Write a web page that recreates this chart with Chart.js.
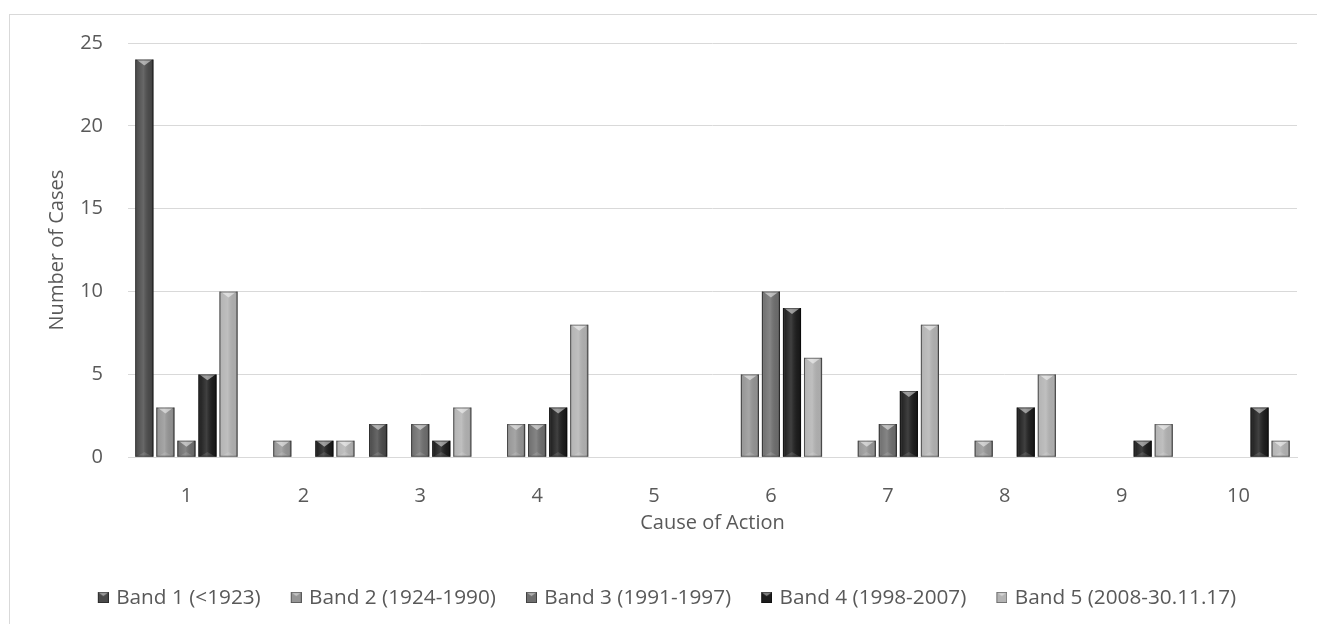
<!DOCTYPE html>
<html>
<head>
<meta charset="utf-8">
<script src="https://cdn.jsdelivr.net/npm/chart.js@4.4.0/dist/chart.umd.min.js"></script>
<style>
  html, body { margin: 0; padding: 0; background: #fff; overflow: hidden; }
  #caixa { position: relative; width: 1317px; height: 624px; }
</style>
</head>
<body>
<div id="caixa"><canvas id="grafico"></canvas></div>
<script>
// dados do grafico
const categorias = ['1', '2', '3', '4', '5', '6', '7', '8', '9', '10'];
const band1 = [24, 0, 2, 0, 0, 0, 0, 0, 0, 0];
const band2 = [3, 1, 0, 2, 0, 5, 1, 1, 0, 0];
const band3 = [1, 0, 2, 2, 0, 10, 2, 0, 0, 0];
const band4 = [5, 1, 1, 3, 0, 9, 4, 3, 1, 3];
const band5 = [10, 1, 3, 8, 0, 6, 8, 5, 2, 1];
const nomes = ['Band 1 (<1923)', 'Band 2 (1924-1990)', 'Band 3 (1991-1997)', 'Band 4 (1998-2007)', 'Band 5 (2008-30.11.17)'];
const cores = ['#4a4a4a', '#959595', '#6e6e6e', '#1c1c1c', '#b3b3b3'];

const corTexto = '#595959';
const corGrade = '#d9d9d9';
const fonte = { family: '"Open Sans", sans-serif', size: 20 };
const fonteLegenda = { family: '"Open Sans", sans-serif', size: 20.75 };

// quadradinho da legenda com o chanfro (desenhado mais pra direita, perto do texto)
function caixaLegenda(cor) {
    const c = document.createElement('canvas');
    c.width = 17; c.height = 11;
    const g = c.getContext('2d');
    g.fillStyle = cor;
    g.fillRect(6, 0, 11, 11);
    g.fillStyle = 'rgba(255,255,255,0.45)';
    g.beginPath(); g.moveTo(6, 0); g.lineTo(17, 0); g.lineTo(11.5, 4); g.closePath(); g.fill();
    g.strokeStyle = 'rgba(0,0,0,0.4)';
    g.strokeRect(6.5, 0.5, 10, 10);
    return c;
}

// moldura cinza em volta
const moldura = {
    id: 'moldura',
    beforeDraw(chart) {
        const ctx = chart.ctx;
        ctx.save();
        ctx.strokeStyle = corGrade;
        ctx.lineWidth = 1;
        ctx.strokeRect(9.5, 14.5, 1400, 800);
        ctx.restore();
    }
};

// legenda um pouco deslocada pra direita
const ajusteLegenda = {
    id: 'ajusteLegenda',
    afterLayout(chart) {
        chart.legend.left += 12;
        chart.legend.right += 12;
    }
};

// efeito de chanfro nas barras
const chanfro = {
    id: 'chanfro',
    afterDatasetsDraw(chart) {
        const ctx = chart.ctx;
        chart.data.datasets.forEach((ds, i) => {
            const meta = chart.getDatasetMeta(i);
            meta.data.forEach((bar, j) => {
                if (!ds.data[j]) return;
                const w = bar.width;
                const x0 = bar.x - w / 2, x1 = bar.x + w / 2;
                const topo = bar.y, base = bar.base;
                const h = base - topo;
                ctx.save();
                const g = ctx.createLinearGradient(x0, 0, x1, 0);
                g.addColorStop(0, 'rgba(0,0,0,0.35)');
                g.addColorStop(0.12, 'rgba(255,255,255,0.04)');
                g.addColorStop(0.45, 'rgba(255,255,255,0.16)');
                g.addColorStop(0.88, 'rgba(0,0,0,0.04)');
                g.addColorStop(1, 'rgba(0,0,0,0.4)');
                ctx.fillStyle = g;
                ctx.fillRect(x0, topo, w, h);
                const b = Math.min(w * 0.33, h / 2);
                ctx.fillStyle = 'rgba(255,255,255,0.5)';
                ctx.beginPath();
                ctx.moveTo(x0 + 1, topo); ctx.lineTo(x1 - 1, topo); ctx.lineTo(bar.x, topo + b);
                ctx.closePath(); ctx.fill();
                ctx.fillStyle = 'rgba(255,255,255,0.12)';
                ctx.beginPath();
                ctx.moveTo(x0 + 1, base); ctx.lineTo(x1 - 1, base); ctx.lineTo(bar.x, base - b * 0.8);
                ctx.closePath(); ctx.fill();
                ctx.strokeStyle = 'rgba(0,0,0,0.45)';
                ctx.lineWidth = 1;
                ctx.strokeRect(x0 + 0.5, topo + 0.5, w - 1, h - 1);
                ctx.restore();
            });
        });
    }
};

const series = [band1, band2, band3, band4, band5];
const caixas = cores.map(caixaLegenda);

const config = {
    type: 'bar',
    data: {
        labels: categorias,
        datasets: series.map((valores, i) => ({
            label: nomes[i],
            data: valores,
            backgroundColor: cores[i],
            borderWidth: 0,
            categoryPercentage: 0.9,
            barPercentage: 0.86
        }))
    },
    options: {
        responsive: true,
        maintainAspectRatio: false,
        animation: false,
        layout: {
            padding: { left: 10, right: 20, top: 43, bottom: 6 }
        },
        plugins: {
            legend: {
                display: true,
                position: 'bottom',
                labels: {
                    color: corTexto,
                    font: fonteLegenda,
                    usePointStyle: true,
                    boxWidth: 11,
                    boxHeight: 11,
                    padding: 27,
                    generateLabels(chart) {
                        const itens = Chart.defaults.plugins.legend.labels.generateLabels(chart);
                        itens.forEach((it, k) => { it.pointStyle = caixas[k]; });
                        return itens;
                    }
                }
            },
            tooltip: { enabled: false }
        },
        scales: {
            x: {
                grid: { display: false },
                border: { display: true, color: corGrade },
                ticks: { color: corTexto, font: fonte, padding: 19 },
                title: {
                    display: true,
                    text: 'Cause of Action',
                    color: corTexto,
                    font: fonte,
                    padding: { top: 0, bottom: 25 }
                },
                afterFit(scale) { scale.height = 103; }
            },
            y: {
                min: 0,
                max: 25,
                ticks: { stepSize: 5, color: corTexto, font: fonte, padding: 25 },
                grid: { color: corGrade, lineWidth: 1, drawTicks: false },
                border: { display: false },
                title: {
                    display: true,
                    text: 'Number of Cases',
                    color: corTexto,
                    font: fonte,
                    padding: { top: 35, bottom: 0 }
                },
                afterFit(scale) { scale.width = 118; }
            }
        }
    },
    plugins: [moldura, ajusteLegenda, chanfro]
};

document.addEventListener('DOMContentLoaded', function() {
    const ctx = document.getElementById('grafico').getContext('2d');
    new Chart(ctx, config);
});
</script>
</body>
</html>
